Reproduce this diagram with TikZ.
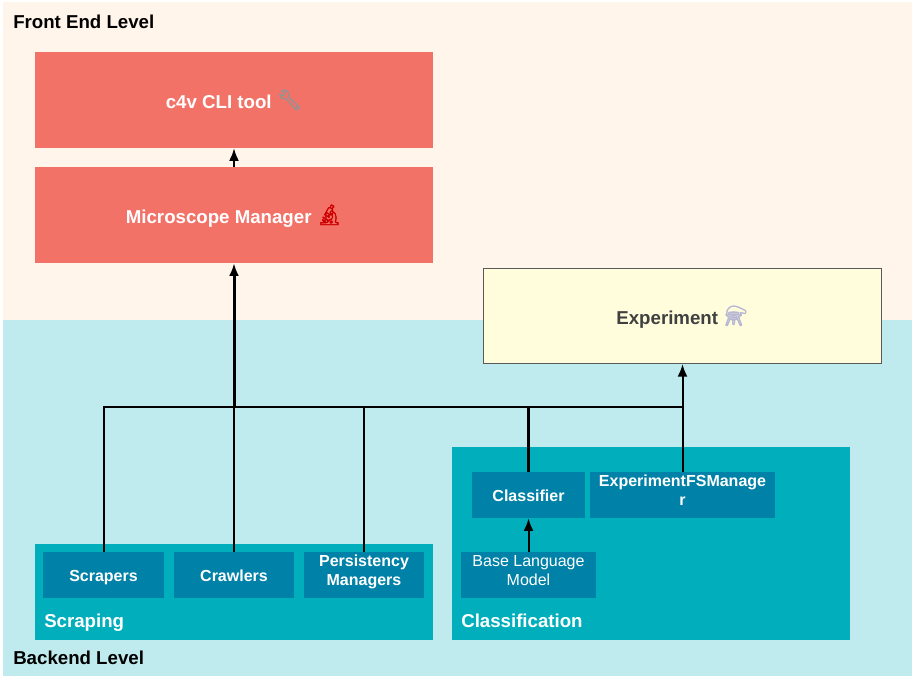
\documentclass[tikz,border=0pt]{standalone}
\usepackage{fontspec}
\setmainfont{Liberation Sans}
\newfontfamily\emojifont[FakeBold=2.2]{Noto Emoji}
\usepackage{xcolor}
\usetikzlibrary{arrows.meta}
\definecolor{frontbg}{HTML}{FFF5EB}
\definecolor{backbg}{HTML}{BFEBEE}
\definecolor{frontred}{HTML}{F37268}
\definecolor{expyellow}{HTML}{FFFDDC}
\definecolor{groupteal}{HTML}{00AFBB}
\definecolor{compblue}{HTML}{0081A7}
\newcommand{\emojiicon}[2]{\smash{\raisebox{1pt}{\emojifont\fontsize{15}{15}\selectfont\textcolor{#1}{\char"#2}}}}
\newcommand{\rowtext}[1]{\smash{\raisebox{-2pt}{#1}}}
\tikzset{
  levellabel/.style={anchor=base west, inner sep=0pt, font=\fontsize{14}{16}\selectfont\bfseries},
  frontbox/.style={fill=frontred, text=white, inner sep=0pt, minimum width=298.5pt, minimum height=72pt,
    font=\fontsize{14}{16}\selectfont\bfseries,
    execute at begin node={\rule[-3pt]{0pt}{18pt}}},
  groupbox/.style={fill=groupteal, inner sep=0pt},
  grouplabel/.style={anchor=base west, inner sep=0pt, text=white, font=\fontsize{14}{16}\selectfont\bfseries},
  compbox/.style={fill=compblue, text=white, inner sep=0pt, align=center, minimum height=34.5pt,
    font=\fontsize{12}{14.5}\selectfont\bfseries,
    execute at begin node={\rule[-2.5pt]{0pt}{14pt}},
    execute at end node={\rule[-2.5pt]{0pt}{14pt}}},
  link/.style={draw=black, line width=1.5pt},
  linktip/.style={link, -{Latex[length=9.5pt,width=7.5pt]}}
}
\begin{document}
\begin{tikzpicture}[x=0.75pt, y=-0.75pt]
\useasboundingbox (0,0) rectangle (912,676);
% level backgrounds
\fill[frontbg] (3,2) rectangle (912,320);
\fill[backbg] (3,320) rectangle (912,676);
\node[levellabel] (frontlabel) at (13,28.5) {Front End Level};
\node[levellabel] (backlabel) at (13,664) {Backend Level};
% front end
\node[frontbox] (cli) at (234,100) {c4v CLI tool \emojiicon{gray!85}{1F527}};
\node[frontbox] (microscope) at (234,215) {Microscope Manager \emojiicon{red!80!black}{1F52C}};
\node[frontbox, fill=expyellow, draw=black!65, line width=0.75pt, text=black!75, minimum height=71.25pt] (experiment) at (682.5,316)
  {Experiment \emojiicon{blue!25!gray!45}{2697}};
% scraping group
\node[groupbox, minimum width=298.5pt, minimum height=72pt] (scraping) at (234,592) {};
\node[grouplabel] (scrapinglabel) at (44,627) {Scraping};
\node[compbox, minimum width=90.75pt] (scrapers) at (103.5,575) {Scrapers};
\node[compbox, minimum width=90pt] (crawlers) at (234,575) {Crawlers};
\node[compbox, minimum width=90pt] (persistency) at (364,575) {\rowtext{Persistency}\\\rowtext{Managers}};
% classification group
\node[groupbox, minimum width=298.5pt, minimum height=144.75pt] (classification) at (651,543.5) {};
\node[grouplabel] (classificationlabel) at (461,627) {Classification};
\node[compbox, minimum width=84.75pt] (classifier) at (528.5,495) {Classifier};
\node[compbox, minimum width=138.75pt] (fsmanager) at (682.5,495) {\rowtext{ExperimentFSManage}\\\rowtext{r}};
\node[compbox, minimum width=101.25pt, font=\fontsize{12}{14.5}\selectfont] (baselm) at (528.5,575) {\rowtext{Base Language}\\\rowtext{Model}};
% connectors
\coordinate (busleft) at (scrapers.north |- 0,407);
\coordinate (busfront) at (microscope.south |- 0,407);
\coordinate (busexp) at (experiment.south |- 0,407);
\draw[link] (scrapers.north) -- (busleft) -- (busexp);
\draw[link] (crawlers.north) -- (busfront);
\draw[link] (persistency.north) -- (persistency.north |- busleft);
\draw[link, line width=2.25pt] (classifier.north) -- (classifier.north |- busleft);
\draw[linktip, line width=2.25pt] (busfront) -- (microscope.south);
\draw[linktip] (fsmanager.north) -- (experiment.south);
\draw[linktip] (baselm.north) -- (classifier.south);
\draw[linktip] (microscope.north) -- (cli.south);
\end{tikzpicture}
\end{document}
